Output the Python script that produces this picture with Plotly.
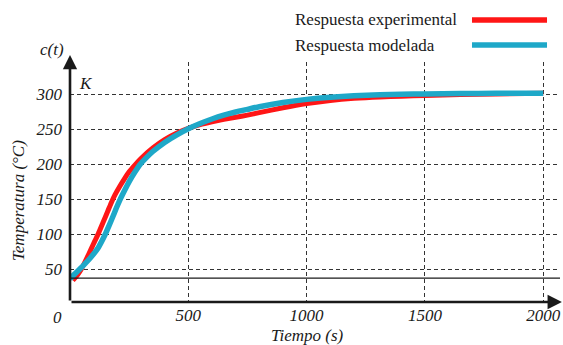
import plotly.graph_objects as go

# Experimental step response (time in s, temperature in °C)
t_exp = [12, 30, 47, 60, 80, 100, 120, 140, 160, 176, 190, 210, 230, 250, 275,
         300, 350, 400, 450, 500, 550, 600, 650, 700, 750, 800, 900, 1000,
         1100, 1200, 1310, 1400, 1500, 1650, 1800, 2000]
c_exp = [34, 41, 49.5, 58, 72, 86.5, 101, 117, 133, 146, 156, 168, 179, 189, 199,
         208, 223, 235, 244, 251, 256.5, 260.5, 264, 267, 270, 273.5, 280.5, 286.5,
         291, 294, 296, 297, 298, 299.3, 300.3, 301.2]

# Modelled step response
t_mod = [0, 20, 56, 90, 120, 148, 165, 180, 195, 211, 230, 250, 275, 296, 325,
         350, 400, 450, 500, 550, 600, 650, 700, 750, 800, 900, 1000, 1100,
         1200, 1310, 1400, 1500, 1650, 1800, 2000]
c_mod = [36, 43, 55, 67.5, 81, 99, 112, 124, 136.5, 149, 162, 175, 189, 199.5, 210,
         218, 231, 241.5, 250.5, 258, 264.5, 270, 274.5, 278.3, 282, 288, 292.5, 295.6,
         297.7, 299, 299.8, 300.3, 300.8, 301.1, 301.4]

series_names = ["Respuesta experimental", "Respuesta modelada"]
series_colors = ["#ff1616", "#1ea8c8"]

x_ticks = [500, 1000, 1500, 2000]
y_ticks = [50, 100, 150, 200, 250, 300]
T0 = 37          # initial temperature reference line
X_MAX = 2071
Y_MIN, Y_MAX = 3, 345.9

FONT = "'Liberation Serif', 'Times New Roman', Times, serif"
INK = "#1a1a1a"

fig = go.Figure()
fig.add_trace(go.Scatter(x=t_exp, y=c_exp, mode="lines", name=series_names[0],
                         line=dict(color=series_colors[0], width=5,
                                   shape="spline", smoothing=0.6),
                         showlegend=False))
fig.add_trace(go.Scatter(x=t_mod, y=c_mod, mode="lines", name=series_names[1],
                         line=dict(color=series_colors[1], width=5.5,
                                   shape="spline", smoothing=0.6),
                         showlegend=False))

tick_font = dict(family=FONT, size=17, color=INK, style="italic")

fig.update_layout(
    width=563, height=345,
    margin=dict(l=70, r=3, t=62, b=43),
    paper_bgcolor="white", plot_bgcolor="white",
    xaxis=dict(range=[0, X_MAX], tickvals=x_ticks, ticks="", showline=False,
               zeroline=False, showgrid=True, gridcolor="#333", gridwidth=1,
               griddash="4px,3px", tickfont=tick_font, ticklabelstandoff=1),
    yaxis=dict(range=[Y_MIN, Y_MAX], tickvals=y_ticks, ticks="", showline=False,
               zeroline=False, showgrid=True, gridcolor="#333", gridwidth=1,
               griddash="4px,3px", tickfont=tick_font, ticklabelstandoff=7),
)

# Initial temperature line
fig.add_shape(type="line", xref="paper", x0=0, x1=1, yref="y", y0=T0, y1=T0,
              line=dict(color=INK, width=1.2))

# Axis arrows
arrow = dict(showarrow=True, arrowhead=2, arrowsize=1.1, arrowwidth=2.6,
             arrowcolor=INK, text="", axref="x", ayref="y", standoff=0)
fig.add_annotation(x=0, y=356, ax=0, ay=Y_MIN, **arrow)
fig.add_annotation(x=2079, y=Y_MIN, ax=0, ay=Y_MIN, **arrow)

label_font = dict(family=FONT, size=17, color=INK, style="italic")
centered = dict(showarrow=False, xanchor="center", yanchor="middle",
                xref="paper", yref="paper", font=label_font)
fig.add_annotation(x=0, y=Y_MIN, xref="x", yref="y", text="0", showarrow=False,
                   xanchor="center", yanchor="top", xshift=-13, yshift=-4,
                   font=label_font)
fig.add_annotation(x=-0.037, y=1.05, text="c(t)", **centered)
fig.add_annotation(x=0.032, y=0.9125, text="K", **centered)
fig.add_annotation(x=0.4837, y=-0.1375, text="Tiempo (s)", **centered)
fig.add_annotation(x=-0.106, y=0.4208, text="Temperatura (°C)", textangle=-90,
                   **centered)

# Legend: text on the left, line sample on the right
legend_rows = [1.175, 1.0708]
for name, color, yy in zip(series_names, series_colors, legend_rows):
    fig.add_annotation(x=0.455, y=yy, xref="paper", yref="paper", text=name,
                       showarrow=False, xanchor="left", yanchor="middle",
                       font=dict(family=FONT, size=17, color=INK))
    fig.add_shape(type="line", xref="paper", yref="paper", x0=0.8204, x1=0.9735,
                  y0=yy, y1=yy, line=dict(color=color, width=5.5))

fig.write_html("out.html")
